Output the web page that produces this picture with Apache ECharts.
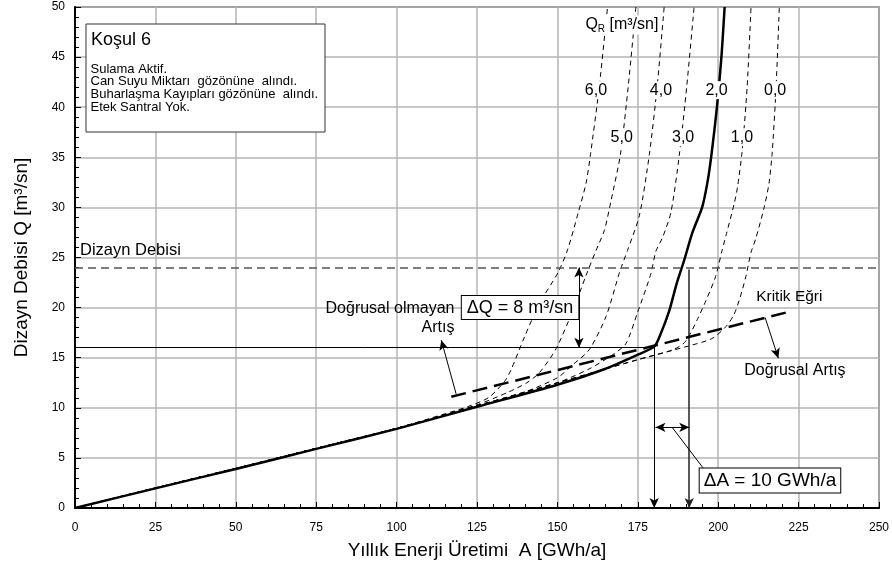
<!DOCTYPE html>
<html><head><meta charset="utf-8">
<script src="https://cdn.jsdelivr.net/npm/echarts@6/dist/echarts.min.js"></script>
<style>html,body{margin:0;padding:0;background:#fff}#c{width:892px;height:566px}</style>
</head><body><div id="c"></div>
<script>
// ---- Data ----
const xTicks = [0, 25, 50, 75, 100, 125, 150, 175, 200, 225, 250];
const yTicks = [0, 5, 10, 15, 20, 25, 30, 35, 40, 45, 50];
const qrNames = ['6,0', '5,0', '4,0', '3,0', '2,0', '1,0', '0,0'];
const curveQR6 = [[0,0],[25,2.0],[50,3.95],[75,5.95],[100,7.95],[115,9.4],[122,10.1],[128.5,11.0],[133.5,12.6],[135.6,13.8],[139.8,17.1],[144.4,20.4],[150.2,23.5],[153.2,25.8],[156.5,29.5],[158.9,32.4],[160.3,35.3],[163,42],[165.6,50]];
const curveQR5 = [[0,0],[25,2.0],[50,3.95],[75,5.95],[100,7.95],[125,10.3],[135,11.6],[140.5,12.5],[144.4,13.5],[149.6,15.9],[154.8,19.7],[158.9,23.2],[162,25.7],[164.6,27.7],[166.7,30.7],[169.6,35.3],[172,42],[174.4,50]];
const curveQR4 = [[0,0],[25,2.0],[50,3.95],[75,5.95],[100,7.95],[125,10.2],[140,11.6],[150,13.0],[154.8,14.3],[159.9,15.8],[165.1,19.1],[169.5,23.7],[171.8,25.7],[175.5,29.2],[178.6,35.3],[181,42],[183.2,50]];
const curveQR3 = [[0,0],[25,2.0],[50,3.95],[75,5.95],[100,7.95],[125,10.2],[150,12.5],[160,13.9],[167.2,15.3],[171.3,16.4],[174.8,19.4],[179.1,23.4],[180.6,25.6],[182.7,27.0],[185.3,29.5],[187.9,35.2],[190.2,42],[192.5,50]];
const curveQR2 = [[0,0],[25,1.96],[50,3.9],[75,5.9],[100,7.9],[125,10.1],[150,12.3],[165,13.9],[175,15.3],[180.1,16.1],[182,17.3],[184.8,19.7],[187,22.3],[189.4,24.7],[192,27.5],[195,30],[196.6,32.4],[197.8,35],[199.6,40],[201,45],[202,50]];
const curveQR1 = [[0,0],[25,2.0],[50,3.95],[75,5.95],[100,7.95],[125,10.2],[150,12.5],[175,14.8],[186,15.8],[189.5,16.5],[191.5,17.5],[193.5,18.8],[196.2,20.7],[199.2,23.1],[201.2,25.7],[202.6,27.4],[205,30.4],[206,32],[207.4,35.5],[209,42],[210.2,50]];
const curveQR0 = [[0,0],[25,2.0],[50,3.95],[75,5.95],[100,7.95],[125,10.2],[150,12.5],[175,14.8],[190,16.1],[198,16.9],[202.4,18.1],[204.9,19.3],[206.8,21.0],[208.6,23.1],[210.2,25.5],[211.7,26.9],[214.3,30],[215.8,32.4],[216.8,35.5],[218,42],[219,50]];
const kritikLine = [[117, 11.1], [221, 19.5]];
const designQ = 24;
const chosenQ = 16;
const chosenA = 180.1;
const designA = 191;
const deltaQText = 'ΔQ = 8 m³/sn';
const deltaAText = 'ΔA = 10 GWh/a';
const caseTitle = 'Koşul 6';
const caseLines = ['Sulama Aktif.', 'Can Suyu Miktarı  gözönüne  alındı.', 'Buharlaşma Kayıpları gözönüne  alındı.', 'Etek Santral Yok.'];

// ---- Layout / annotation anchors (data coords) ----
const curves = [curveQR6, curveQR5, curveQR4, curveQR3, curveQR2, curveQR1, curveQR0];
const curveLabelPos = [[162.0,41.7],[170.0,37.0],[182.2,41.7],[189.1,37.0],[199.5,41.7],[207.4,37.0],[217.7,41.7]];

const FONT = 'Liberation Sans, Arial, sans-serif';

const series = [];
curves.forEach((c, i) => {
  const solid = qrNames[i] === '2,0';
  series.push({
    type: 'line', name: 'QR ' + qrNames[i], data: c, symbol: 'none', smooth: 0.25,
    clip: true, silent: true, z: solid ? 4 : 3,
    lineStyle: solid ? {color: '#000', width: 2.5, type: 'solid'} : {color: '#000', width: 1, type: [5, 4]}
  });
});
series.push({
  type: 'line', name: 'Kritik', data: kritikLine, symbol: 'none', silent: true, z: 5,
  lineStyle: {color: '#000', width: 2.5, type: [15, 7]}
});

function seg(a, b, s1, s2, style) {
  return [{coord: a, symbol: s1, lineStyle: style}, {coord: b, symbol: s2}];
}
const thin = {color: '#000', width: 1, type: 'solid'};
series.push({
  type: 'line', data: [], silent: true, z: 6,
  markLine: {
    silent: true, animation: false, symbolSize: [7, 10],
    label: {show: false},
    lineStyle: {color: '#000', width: 1, type: 'solid'},
    data: [
      [{coord: [0, designQ], symbol: 'none', lineStyle: {color: '#555', width: 1.5, type: [8, 5]}}, {coord: [250, designQ], symbol: 'none'}],
      seg([0, chosenQ], [chosenA, chosenQ], 'none', 'none', thin),
      seg([chosenA, chosenQ], [chosenA, 0], 'none', 'arrow', thin),
      seg([designA, 23.8], [designA, 0], 'none', 'arrow', {color: '#222', width: 1.5, type: 'solid'}),
      seg([156.7, designQ], [156.7, chosenQ], 'arrow', 'arrow', thin),
      seg([chosenA + 0.4, 8.05], [designA, 8.05], 'arrow', 'arrow', thin),
      seg([185.8, 8.0], [195.3, 4.0], 'none', 'none', thin),
      seg([118.5, 11.4], [113.9, 16.75], 'none', 'arrow', thin),
      seg([214.6, 19.0], [218.7, 14.95], 'none', 'arrow', thin)
    ]
  }
});

const chart = echarts.init(document.getElementById('c'), null, {renderer: 'canvas'});
chart.setOption({
  animation: false,
  backgroundColor: '#fff',
  textStyle: {fontFamily: FONT},
  grid: {left: 75, right: 12, top: 7, bottom: 58, show: true, borderColor: '#444', borderWidth: 1.5, backgroundColor: 'transparent'},
  xAxis: {
    type: 'value', min: xTicks[0], max: xTicks[xTicks.length - 1], interval: 25,
    name: 'Yıllık Enerji Üretimi  A [GWh/a]', nameLocation: 'middle', nameGap: 33,
    nameTextStyle: {fontSize: 19, color: '#000', fontFamily: FONT},
    axisLine: {lineStyle: {color: '#000', width: 2}},
    axisTick: {inside: true, length: 6, lineStyle: {color: '#000'}},
    minorTick: {show: true, splitNumber: 5, length: 4, lineStyle: {color: '#000'}},
    axisLabel: {fontSize: 12, color: '#000', margin: 14, fontFamily: FONT},
    splitLine: {show: true, lineStyle: {color: '#b4b4b4', width: 1.5}}
  },
  yAxis: {
    type: 'value', min: yTicks[0], max: yTicks[yTicks.length - 1], interval: 5,
    name: 'Dizayn Debisi Q [m³/sn]', nameLocation: 'middle', nameGap: 44,
    nameTextStyle: {fontSize: 19, color: '#000', fontFamily: FONT},
    axisLine: {lineStyle: {color: '#000', width: 2}},
    axisTick: {inside: true, length: 6, lineStyle: {color: '#000'}},
    minorTick: {show: true, splitNumber: 5, length: 4, lineStyle: {color: '#000'}},
    axisLabel: {fontSize: 12, color: '#000', margin: 10, fontFamily: FONT},
    splitLine: {show: true, lineStyle: {color: '#b4b4b4', width: 1.5}}
  },
  series: series
});

// ---- Text annotations placed through the chart's own coordinate conversion ----
function P(a) { return chart.convertToPixel({gridIndex: 0}, a); }
const annots = [];
qrNames.forEach((n, i) => {
  annots.push({pos: curveLabelPos[i], text: n, align: 'center', fontSize: 16, bg: '#fff', padding: [1, 1]});
});
annots.push({pos: [1.55, 25.7], text: 'Dizayn Debisi', align: 'left', fontSize: 16.5});
annots.push({pos: [118.0, 19.9], text: 'Doğrusal olmayan', align: 'right', fontSize: 16});
annots.push({pos: [118.0, 18.05], text: 'Artış', align: 'right', fontSize: 16});
annots.push({pos: [211.8, 21.1], text: 'Kritik Eğri', align: 'left', fontSize: 15.5});
annots.push({pos: [208.1, 13.7], text: 'Doğrusal Artış', align: 'left', fontSize: 16});
annots.push({pos: [138.4, 20.0], text: deltaQText, align: 'center', fontSize: 18, bg: '#fff', border: true, padding: [3, 5, 2, 5]});
annots.push({pos: [216.1, 2.74], text: deltaAText, align: 'center', fontSize: 19, bg: '#fff', border: true, padding: [3, 4, 2, 4]});

const gfx = annots.map(a => {
  const p = P(a.pos);
  const st = {text: a.text, fontSize: a.fontSize, fontFamily: FONT, fill: '#000', align: a.align, verticalAlign: 'middle'};
  if (a.bg) { st.backgroundColor = a.bg; st.padding = a.padding; }
  if (a.border) { st.borderColor = '#000'; st.borderWidth = 1; }
  return {type: 'text', x: p[0], y: p[1], z: 100, silent: true, style: st};
});
const qp = P([158.4, 48.2]);
gfx.push({type: 'text', x: qp[0], y: qp[1], z: 100, silent: true, style: {
  text: '{a|Q}{s|R}{a| [m³/sn]}', align: 'left', verticalAlign: 'middle', backgroundColor: '#fff', padding: [0, 1],
  rich: {a: {fontSize: 16, fill: '#000', fontFamily: FONT}, s: {fontSize: 10, fill: '#000', fontFamily: FONT, padding: [9, 0, 0, 0]}}
}});
// condition box (legend-like panel, pixel layout)
gfx.push({type: 'rect', x: 86, y: 24, z: 100, silent: true, shape: {x: 0, y: 0, width: 239, height: 108}, style: {fill: '#fff', stroke: '#333', lineWidth: 1}});
gfx.push({type: 'text', x: 91, y: 40, z: 101, silent: true, style: {text: caseTitle, fontSize: 18, fill: '#000', fontFamily: FONT, verticalAlign: 'middle'}});
const lineY = [69, 81.7, 94.3, 107];
caseLines.forEach((t, i) => {
  gfx.push({type: 'text', x: 90.5, y: lineY[i], z: 101, silent: true, style: {text: t, fontSize: 13, fill: '#000', fontFamily: FONT, verticalAlign: 'middle'}});
});
chart.setOption({graphic: gfx});
</script></body></html>
